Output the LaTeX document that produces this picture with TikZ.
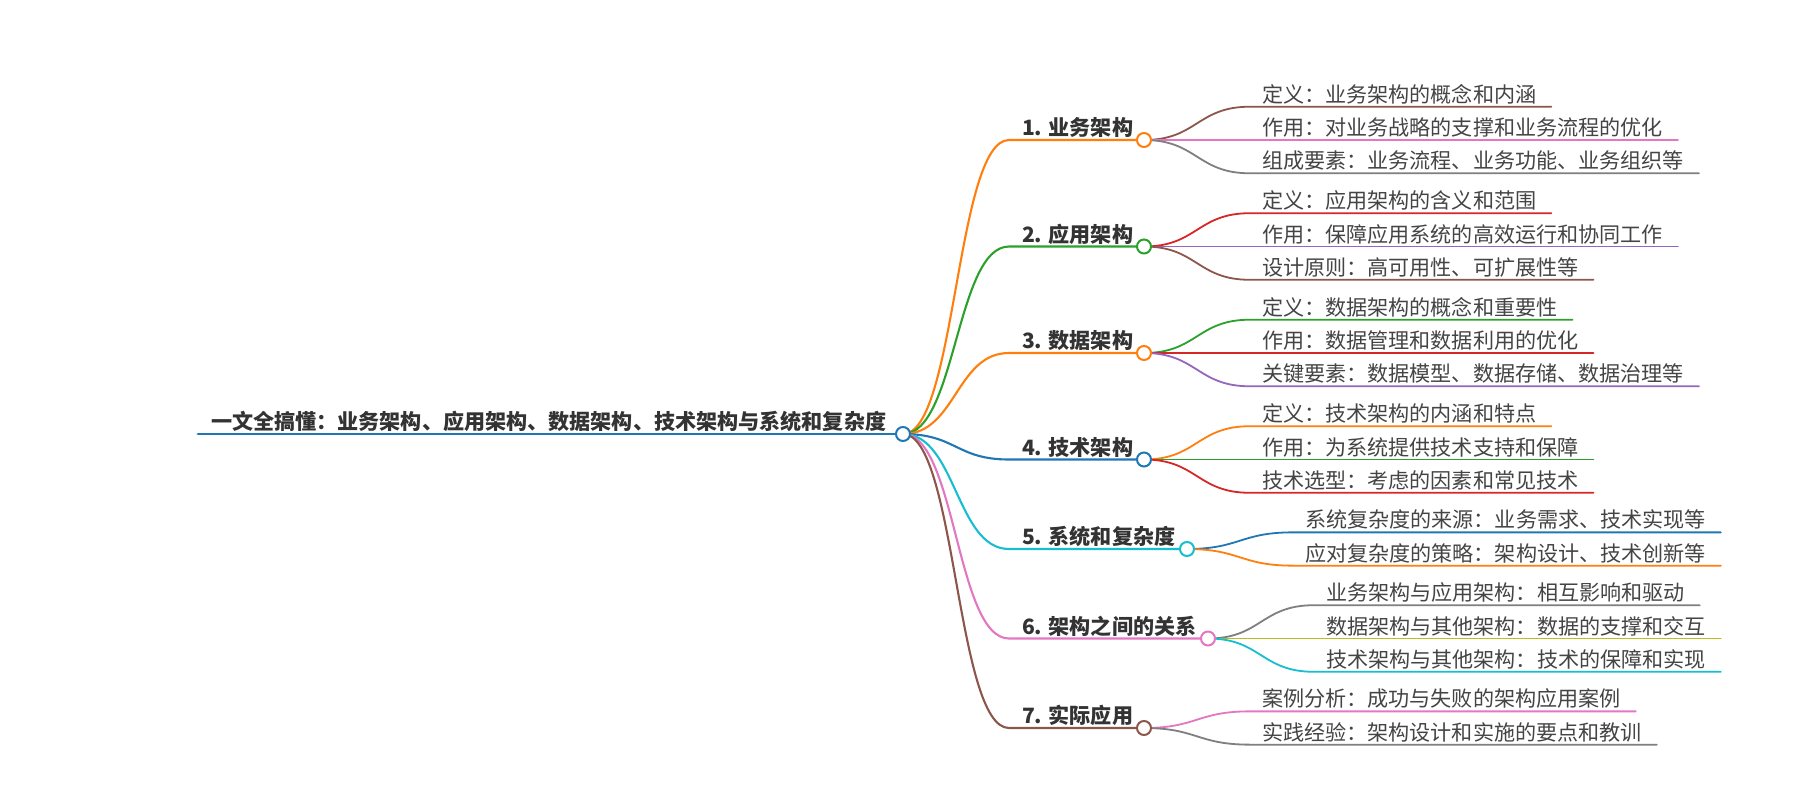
\documentclass[tikz,border=0pt]{standalone}
\usepackage{fontspec}
\setmainfont{Noto Sans CJK SC}
\definecolor{cBlue}{HTML}{1F77B4}
\definecolor{cOrange}{HTML}{FF7F0E}
\definecolor{cGreen}{HTML}{2CA02C}
\definecolor{cRed}{HTML}{D62728}
\definecolor{cPurple}{HTML}{9467BD}
\definecolor{cBrown}{HTML}{8C564B}
\definecolor{cPink}{HTML}{E377C2}
\definecolor{cGray}{HTML}{7F7F7F}
\definecolor{cOlive}{HTML}{BCBD22}
\definecolor{cCyan}{HTML}{17BECF}
\definecolor{txtMain}{HTML}{333333}
\definecolor{txtLeaf}{HTML}{444444}
\begin{document}
\begin{tikzpicture}[x=1pt,y=-1pt,
  rootline/.style={line width=2.8pt, line cap=round},
  lk/.style={line width=2.1pt, line cap=round},
  lf/.style={line width=1.8pt, line cap=round},
  leaf/.style={anchor=base west, inner sep=0pt, outer sep=0pt, xshift=12pt, yshift=4.5pt,
    font=\fontsize{21.1pt}{25pt}\selectfont, text=txtLeaf},
  main/.style={anchor=base west, inner sep=0pt, outer sep=0pt, xshift=13pt, yshift=4.5pt,
    font=\fontsize{21.1pt}{25pt}\selectfont\bfseries, text=txtMain},
  dot/.style={circle, draw, fill=white, line width=2pt, minimum size=14pt, inner sep=0pt}]
\useasboundingbox[fill=white] (0,0) rectangle (1800,800);

% ---------- coordinates ----------
\coordinate (rs) at (198,434);
\coordinate (r) at (903,434);
% level 1 line starts and circle centres
\coordinate (s1) at (1009,140);   \coordinate (k1) at (1144,140);
\coordinate (s2) at (1009,246.5); \coordinate (k2) at (1144,246.5);
\coordinate (s3) at (1009,353);   \coordinate (k3) at (1144,353);
\coordinate (s4) at (1009,459.5); \coordinate (k4) at (1144,459.5);
\coordinate (s5) at (1009,549);   \coordinate (k5) at (1187,549);
\coordinate (s6) at (1009,638.5); \coordinate (k6) at (1208,638.5);
\coordinate (s7) at (1009,728);   \coordinate (k7) at (1144,728);
% leaf line starts
\coordinate (l11) at (1250,106.7); \coordinate (l12) at (1250,140);   \coordinate (l13) at (1250,173.3);
\coordinate (l21) at (1250,213.2); \coordinate (l22) at (1250,246.5); \coordinate (l23) at (1250,279.8);
\coordinate (l31) at (1250,319.7); \coordinate (l32) at (1250,353);   \coordinate (l33) at (1250,386.3);
\coordinate (l41) at (1250,426.2); \coordinate (l42) at (1250,459.5); \coordinate (l43) at (1250,492.8);
\coordinate (l51) at (1293,532.35); \coordinate (l52) at (1293,565.65);
\coordinate (l61) at (1314,605.2); \coordinate (l62) at (1314,638.5); \coordinate (l63) at (1314,671.8);
\coordinate (l71) at (1250,711.35); \coordinate (l72) at (1250,744.65);

% ---------- texts ----------
\node[main] (root) at (rs) {一文全搞懂：业务架构、应用架构、数据架构、技术架构与系统和复杂度};
\node[main] (n1) at (s1) {1. 业务架构};
\node[main] (n2) at (s2) {2. 应用架构};
\node[main] (n3) at (s3) {3. 数据架构};
\node[main] (n4) at (s4) {4. 技术架构};
\node[main] (n5) at (s5) {5. 系统和复杂度};
\node[main] (n6) at (s6) {6. 架构之间的关系};
\node[main] (n7) at (s7) {7. 实际应用};

\node[leaf] (t11) at (l11) {定义：业务架构的概念和内涵};
\node[leaf] (t12) at (l12) {作用：对业务战略的支撑和业务流程的优化};
\node[leaf] (t13) at (l13) {组成要素：业务流程、业务功能、业务组织等};
\node[leaf] (t21) at (l21) {定义：应用架构的含义和范围};
\node[leaf] (t22) at (l22) {作用：保障应用系统的高效运行和协同工作};
\node[leaf] (t23) at (l23) {设计原则：高可用性、可扩展性等};
\node[leaf] (t31) at (l31) {定义：数据架构的概念和重要性};
\node[leaf] (t32) at (l32) {作用：数据管理和数据利用的优化};
\node[leaf] (t33) at (l33) {关键要素：数据模型、数据存储、数据治理等};
\node[leaf] (t41) at (l41) {定义：技术架构的内涵和特点};
\node[leaf] (t42) at (l42) {作用：为系统提供技术支持和保障};
\node[leaf] (t43) at (l43) {技术选型：考虑的因素和常见技术};
\node[leaf] (t51) at (l51) {系统复杂度的来源：业务需求、技术实现等};
\node[leaf] (t52) at (l52) {应对复杂度的策略：架构设计、技术创新等};
\node[leaf] (t61) at (l61) {业务架构与应用架构：相互影响和驱动};
\node[leaf] (t62) at (l62) {数据架构与其他架构：数据的支撑和交互};
\node[leaf] (t63) at (l63) {技术架构与其他架构：技术的保障和实现};
\node[leaf] (t71) at (l71) {案例分析：成功与失败的架构应用案例};
\node[leaf] (t72) at (l72) {实践经验：架构设计和实施的要点和教训};

% ---------- root underline ----------
\draw[rootline, cBlue] (rs) -- (r);

% ---------- level 1 links ----------
\draw[lk, cOrange] (r) .. controls +(53,0) and +(-53,0) .. (s1) -- (k1);
\draw[lk, cGreen]  (r) .. controls +(53,0) and +(-53,0) .. (s2) -- (k2);
\draw[lk, cOrange] (r) .. controls +(53,0) and +(-53,0) .. (s3) -- (k3);
\draw[lk, cBlue]   (r) .. controls +(53,0) and +(-53,0) .. (s4) -- (k4);
\draw[lk, cCyan]   (r) .. controls +(53,0) and +(-53,0) .. (s5) -- (k5);
\draw[lk, cPink]   (r) .. controls +(53,0) and +(-53,0) .. (s6) -- (k6);
\draw[lk, cBrown]  (r) .. controls +(53,0) and +(-53,0) .. (s7) -- (k7);

% ---------- leaf links ----------
\draw[lf, cBrown]  (k1) .. controls +(53,0) and +(-53,0) .. (l11) -- (l11 -| t11.east) -- ++(15,0);
\draw[lf, cPink]   (k1) .. controls +(53,0) and +(-53,0) .. (l12) -- (l12 -| t12.east) -- ++(15,0);
\draw[lf, cGray]   (k1) .. controls +(53,0) and +(-53,0) .. (l13) -- (l13 -| t13.east) -- ++(15,0);

\draw[lf, cRed]    (k2) .. controls +(53,0) and +(-53,0) .. (l21) -- (l21 -| t21.east) -- ++(15,0);
\draw[lf, cPurple] (k2) .. controls +(53,0) and +(-53,0) .. (l22) -- (l22 -| t22.east) -- ++(15,0);
\draw[lf, cBrown]  (k2) .. controls +(53,0) and +(-53,0) .. (l23) -- (l23 -| t23.east) -- ++(15,0);

\draw[lf, cGreen]  (k3) .. controls +(53,0) and +(-53,0) .. (l31) -- (l31 -| t31.east) -- ++(15,0);
\draw[lf, cRed]    (k3) .. controls +(53,0) and +(-53,0) .. (l32) -- (l32 -| t32.east) -- ++(15,0);
\draw[lf, cPurple] (k3) .. controls +(53,0) and +(-53,0) .. (l33) -- (l33 -| t33.east) -- ++(15,0);

\draw[lf, cOrange] (k4) .. controls +(53,0) and +(-53,0) .. (l41) -- (l41 -| t41.east) -- ++(15,0);
\draw[lf, cGreen]  (k4) .. controls +(53,0) and +(-53,0) .. (l42) -- (l42 -| t42.east) -- ++(15,0);
\draw[lf, cRed]    (k4) .. controls +(53,0) and +(-53,0) .. (l43) -- (l43 -| t43.east) -- ++(15,0);

\draw[lf, cBlue]   (k5) .. controls +(53,0) and +(-53,0) .. (l51) -- (l51 -| t51.east) -- ++(15,0);
\draw[lf, cOrange] (k5) .. controls +(53,0) and +(-53,0) .. (l52) -- (l52 -| t52.east) -- ++(15,0);

\draw[lf, cGray]   (k6) .. controls +(53,0) and +(-53,0) .. (l61) -- (l61 -| t61.east) -- ++(15,0);
\draw[lf, cOlive]  (k6) .. controls +(53,0) and +(-53,0) .. (l62) -- (l62 -| t62.east) -- ++(15,0);
\draw[lf, cCyan]   (k6) .. controls +(53,0) and +(-53,0) .. (l63) -- (l63 -| t63.east) -- ++(15,0);

\draw[lf, cPink]   (k7) .. controls +(53,0) and +(-53,0) .. (l71) -- (l71 -| t71.east) -- ++(15,0);
\draw[lf, cGray]   (k7) .. controls +(53,0) and +(-53,0) .. (l72) -- (l72 -| t72.east) -- ++(15,0);

% ---------- circles ----------
\node[dot, draw=cBlue]   (dr) at (r) {};
\node[dot, draw=cOrange] (d1) at (k1) {};
\node[dot, draw=cGreen]  (d2) at (k2) {};
\node[dot, draw=cOrange] (d3) at (k3) {};
\node[dot, draw=cBlue]   (d4) at (k4) {};
\node[dot, draw=cCyan]   (d5) at (k5) {};
\node[dot, draw=cPink]   (d6) at (k6) {};
\node[dot, draw=cBrown]  (d7) at (k7) {};
\end{tikzpicture}
\end{document}
